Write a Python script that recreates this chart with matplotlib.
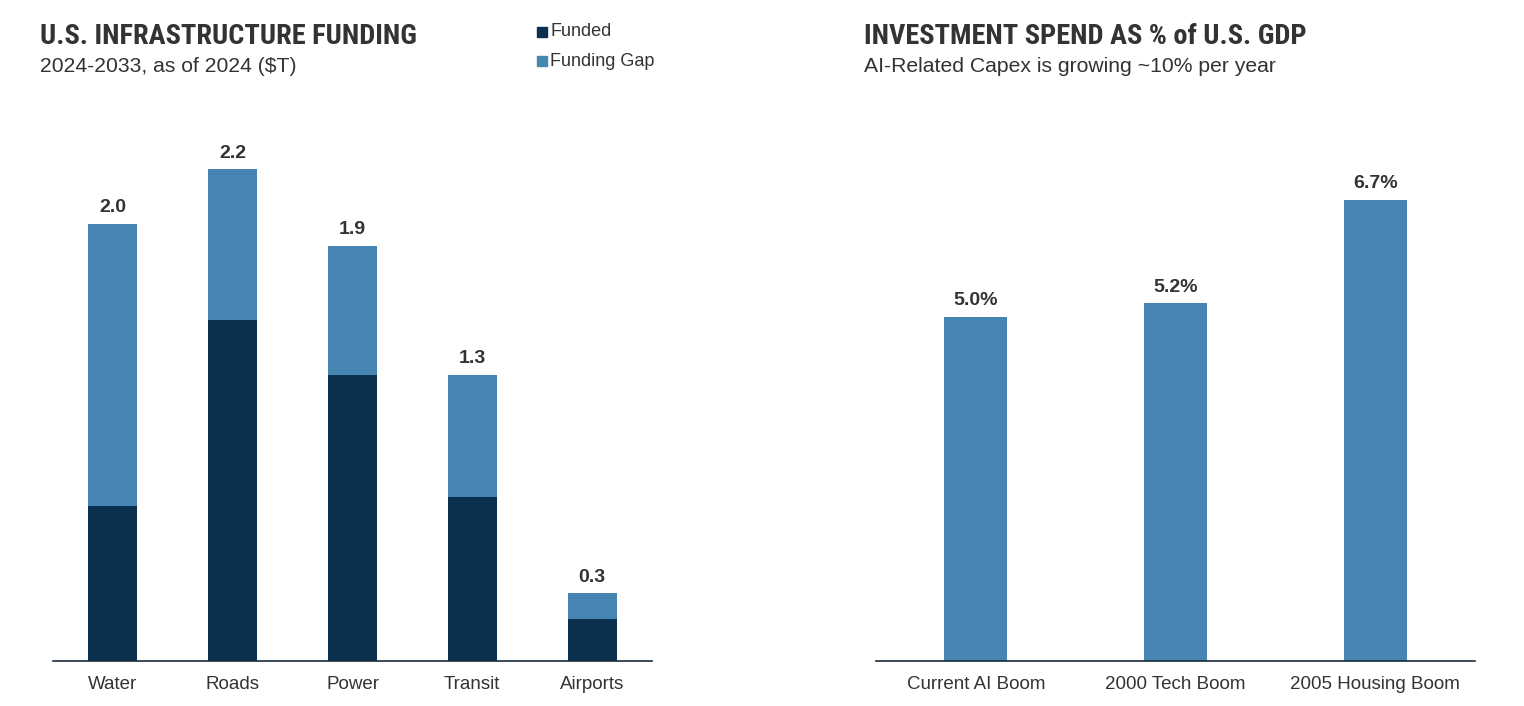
import matplotlib
matplotlib.use("Agg")
import matplotlib.pyplot as plt
from matplotlib import font_manager
from matplotlib.patches import Rectangle

plt.rcParams['font.family'] = ['Liberation Sans', 'DejaVu Sans']
_names = {f.name for f in font_manager.fontManager.ttflist}
title_font = 'Liberation Sans'
title_size = 16.6
for cand, size in (('Liberation Sans Narrow', 20), ('Arial Narrow', 20), ('Roboto Condensed', 20.4),
                   ('Archivo Narrow', 20.4), ('PT Sans Narrow', 20.4)):
    if cand in _names:
        title_font, title_size = cand, size
        break

# Data
categories_left = ["Water", "Roads", "Power", "Transit", "Airports"]
funded = [0.71, 1.56, 1.31, 0.75, 0.19]
totals = [2.0, 2.25, 1.90, 1.31, 0.31]
total_labels = ["2.0", "2.2", "1.9", "1.3", "0.3"]

categories_right = ["Current AI Boom", "2000 Tech Boom", "2005 Housing Boom"]
gdp_share = [5.0, 5.2, 6.7]
gdp_labels = ["5.0%", "5.2%", "6.7%"]

NAVY = "#0B2F4F"
BLUE = "#4786B2"
TEXT = "#333333"

W, H = 1524, 706
fig = plt.figure(figsize=(W / 100, H / 100), dpi=100)

def ax_rect(x0, x1, ytop, ybot):
    return [x0 / W, 1 - ybot / H, (x1 - x0) / W, (ybot - ytop) / H]

# Left chart
ax1 = fig.add_axes(ax_rect(53, 652, 100, 661))
gaps = [t - f for t, f in zip(totals, funded)]
x1 = range(len(categories_left))
ax1.bar(x1, funded, width=0.41, color=NAVY, label="Funded")
ax1.bar(x1, gaps, bottom=funded, width=0.41, color=BLUE, label="Funding Gap")
for i, (t, lab) in enumerate(zip(totals, total_labels)):
    ax1.text(i, t + 0.035, lab, ha='center', va='bottom', fontsize=14, fontweight='bold', color=TEXT)
ax1.set_xlim(-0.5, 4.5)
ax1.set_ylim(0, 561 / 218.5)

# Right chart
ax2 = fig.add_axes(ax_rect(876, 1475, 100, 661))
x2 = range(len(categories_right))
ax2.bar(x2, gdp_share, width=0.315, color=BLUE)
for i, (v, lab) in enumerate(zip(gdp_share, gdp_labels)):
    ax2.text(i, v + 0.11, lab, ha='center', va='bottom', fontsize=14, fontweight='bold', color=TEXT)
ax2.set_xlim(-0.5, 2.5)
ax2.set_ylim(0, 561 / 68.8)

for ax, cats in ((ax1, categories_left), (ax2, categories_right)):
    for s in ('top', 'right', 'left'):
        ax.spines[s].set_visible(False)
    ax.spines['bottom'].set_color('#1a2a3a')
    ax.spines['bottom'].set_linewidth(1.2)
    ax.set_yticks([])
    ax.set_xticks(range(len(cats)))
    ax.set_xticklabels(cats, fontsize=13.5, color=TEXT)
    ax.tick_params(axis='x', length=0, pad=11)
    ax.patch.set_visible(False)

# Titles
fig.text(40 / W, 1 - 37 / H, "U.S. INFRASTRUCTURE FUNDING", fontsize=title_size, fontweight='bold',
         color=TEXT, va='center', ha='left', family=[title_font, 'Liberation Sans'])
fig.text(40 / W, 1 - 67 / H, "2024-2033, as of 2024 ($T)", fontsize=15.2, color=TEXT, va='center', ha='left')
fig.text(864 / W, 1 - 37 / H, "INVESTMENT SPEND AS % of U.S. GDP", fontsize=title_size, fontweight='bold',
         color=TEXT, va='center', ha='left', family=[title_font, 'Liberation Sans'])
fig.text(864 / W, 1 - 67 / H, "AI-Related Capex is growing ~10% per year", fontsize=15.2, color=TEXT,
         va='center', ha='left')

# Legend
for (ly, lab, col) in ((32, "Funded", NAVY), (61, "Funding Gap", BLUE)):
    fig.patches.append(Rectangle((537 / W, 1 - (ly + 5) / H), 10 / W, 10 / H,
                                 transform=fig.transFigure, color=col))
    fig.text(550 / W, 1 - ly / H, lab, fontsize=13, color=TEXT, va='center', ha='left')

fig.savefig("out.png", dpi=100)
